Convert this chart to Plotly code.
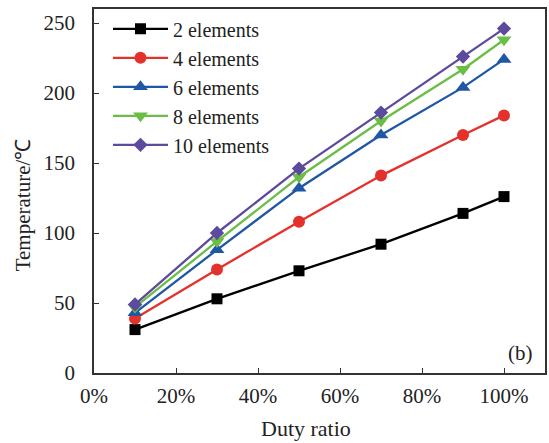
import plotly.graph_objects as go

duty_ratio = [0.1, 0.3, 0.5, 0.7, 0.9, 1.0]
temp_2 = [31, 53, 73, 92, 114, 126]
temp_4 = [39, 74, 108, 141, 170, 184]
temp_6 = [43, 88, 132, 170, 204, 224]
temp_8 = [47, 94, 140, 180, 217, 238]
temp_10 = [49, 100, 146, 186, 226, 246]

series_names = ["2 elements", "4 elements", "6 elements", "8 elements", "10 elements"]
series_values = [temp_2, temp_4, temp_6, temp_8, temp_10]
colors = ["#000000", "#E5312C", "#1F57A5", "#6ABD45", "#5C4A9D"]
symbols = ["square", "circle", "triangle-up", "triangle-down", "diamond"]
marker_sizes = [11, 12, 13, 13, 11]

x_ticks = [0, 0.2, 0.4, 0.6, 0.8, 1.0]
x_tick_labels = ["0%", "20%", "40%", "60%", "80%", "100%"]
y_ticks = [0, 50, 100, 150, 200, 250]

font_family = "Liberation Serif"
axis_color = "#333333"

W, H = 549, 443
L, R, T, B = 94, 2, 9, 70
pw, ph = W - L - R, H - T - B


def px_x(px):
    return (px - L) / pw


def px_y(py):
    return (H - B - py) / ph


fig = go.Figure()
for name, vals, col, sym, ms in zip(series_names, series_values, colors, symbols, marker_sizes):
    fig.add_trace(go.Scatter(
        x=duty_ratio, y=vals, name=name, mode="lines+markers",
        line=dict(color=col, width=2.3),
        marker=dict(symbol=sym, size=ms, color=col),
    ))

fig.update_layout(
    width=W, height=H,
    margin=dict(l=L, r=R, t=T, b=B),
    paper_bgcolor="white", plot_bgcolor="white",
    font=dict(family=font_family, size=21, color="#222222"),
    showlegend=True,
    legend=dict(
        x=0.031, y=0.999, xanchor="left", yanchor="top",
        bgcolor="rgba(0,0,0,0)", font=dict(family=font_family, size=20),
        tracegroupgap=0, itemwidth=55,
    ),
    xaxis=dict(
        range=[0, 1.1], tickvals=x_ticks, ticktext=x_tick_labels,
        showgrid=False, zeroline=False,
        showline=True, linecolor=axis_color, linewidth=1.5, mirror=True,
        ticks="inside", ticklen=5, tickcolor=axis_color,
        ticklabelstandoff=3,
        tickfont=dict(family=font_family, size=21),
    ),
    yaxis=dict(
        range=[0, 260], tickvals=y_ticks,
        showgrid=False, zeroline=False,
        showline=True, linecolor=axis_color, linewidth=1.5, mirror=True,
        ticks="inside", ticklen=5, tickcolor=axis_color,
        ticklabelstandoff=13,
        tickfont=dict(family=font_family, size=21),
    ),
    annotations=[
        dict(text="(b)", x=px_x(537), y=px_y(353), xref="paper", yref="paper",
             xanchor="right", yanchor="middle", showarrow=False,
             font=dict(family=font_family, size=21)),
        dict(text="Duty ratio", x=px_x(307), y=px_y(429), xref="paper", yref="paper",
             xanchor="center", yanchor="middle", showarrow=False,
             font=dict(family=font_family, size=22)),
        dict(text="Temperature/℃", x=px_x(23), y=px_y(205), xref="paper", yref="paper",
             xanchor="center", yanchor="middle", textangle=-90, showarrow=False,
             font=dict(family=font_family, size=21)),
    ],
)

fig.write_html("out.html")
